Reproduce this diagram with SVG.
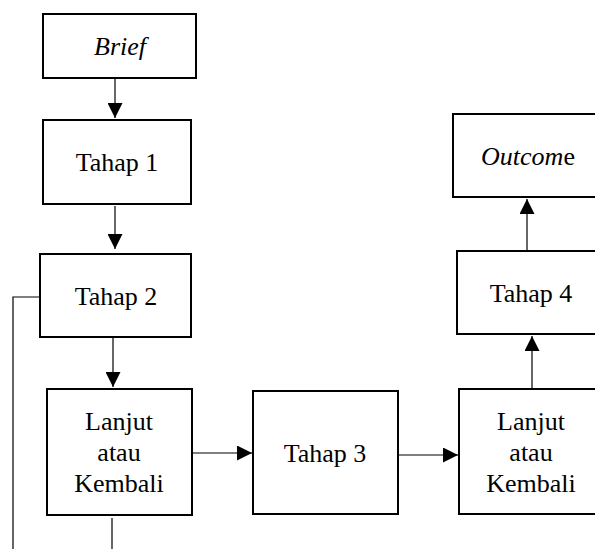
<svg xmlns="http://www.w3.org/2000/svg" width="595" height="549" viewBox="0 0 595 549">
<style>
.box{fill:#fff;stroke:#000;stroke-width:2}
.lbl{font-family:"Liberation Serif","Times New Roman",serif;font-size:26px;fill:#000;text-anchor:middle}
.it{font-style:italic}
.con{fill:none;stroke:#000;stroke-width:1.2}
</style>
<defs>
<marker id="ah" markerUnits="userSpaceOnUse" markerWidth="15" markerHeight="15" refX="15" refY="7.5" orient="auto">
<path d="M0,0 L15,7.5 L0,15 z" fill="#000"/>
</marker>
</defs>
<rect width="595" height="549" fill="#fff"/>
<g id="brief"><rect class="box" x="43" y="14" width="153" height="64"/><text class="lbl it" x="120" y="55">Brief</text></g>
<g id="tahap1"><rect class="box" x="43" y="120" width="148" height="84"/><text class="lbl" x="117" y="171">Tahap 1</text></g>
<g id="tahap2"><rect class="box" x="40" y="254" width="151" height="83"/><text class="lbl" x="116" y="305">Tahap 2</text></g>
<g id="lanjut1"><rect class="box" x="47" y="389" width="145" height="126"/><text class="lbl" x="119" y="430">Lanjut</text><text class="lbl" x="119" y="461">atau</text><text class="lbl" x="119" y="492">Kembali</text></g>
<g id="tahap3"><rect class="box" x="253" y="391" width="145" height="123"/><text class="lbl" x="325" y="462">Tahap 3</text></g>
<g id="lanjut2"><rect class="box" x="459" y="389" width="145" height="125"/><text class="lbl" x="531" y="430">Lanjut</text><text class="lbl" x="531" y="461">atau</text><text class="lbl" x="531" y="492">Kembali</text></g>
<g id="tahap4"><rect class="box" x="457" y="251" width="150" height="83"/><text class="lbl" x="531" y="302">Tahap 4</text></g>
<g id="outcome"><rect class="box" x="453" y="114" width="155" height="83"/><text class="lbl" x="528" y="165"><tspan class="it">Outcom</tspan>e</text></g>
<g id="connectors">
<line class="con" x1="115" y1="79" x2="115" y2="118" marker-end="url(#ah)"/>
<line class="con" x1="115" y1="206" x2="115" y2="249" marker-end="url(#ah)"/>
<line class="con" x1="113" y1="338" x2="113" y2="387" marker-end="url(#ah)"/>
<line class="con" x1="193" y1="453" x2="252" y2="453" marker-end="url(#ah)"/>
<line class="con" x1="399" y1="455" x2="458" y2="455" marker-end="url(#ah)"/>
<line class="con" x1="532" y1="388" x2="532" y2="336" marker-end="url(#ah)"/>
<line class="con" x1="527" y1="250" x2="527" y2="199" marker-end="url(#ah)"/>
<polyline class="con" points="40,297 13,297 13,549"/>
<line class="con" x1="112" y1="518" x2="112" y2="549"/>
</g>
</svg>
